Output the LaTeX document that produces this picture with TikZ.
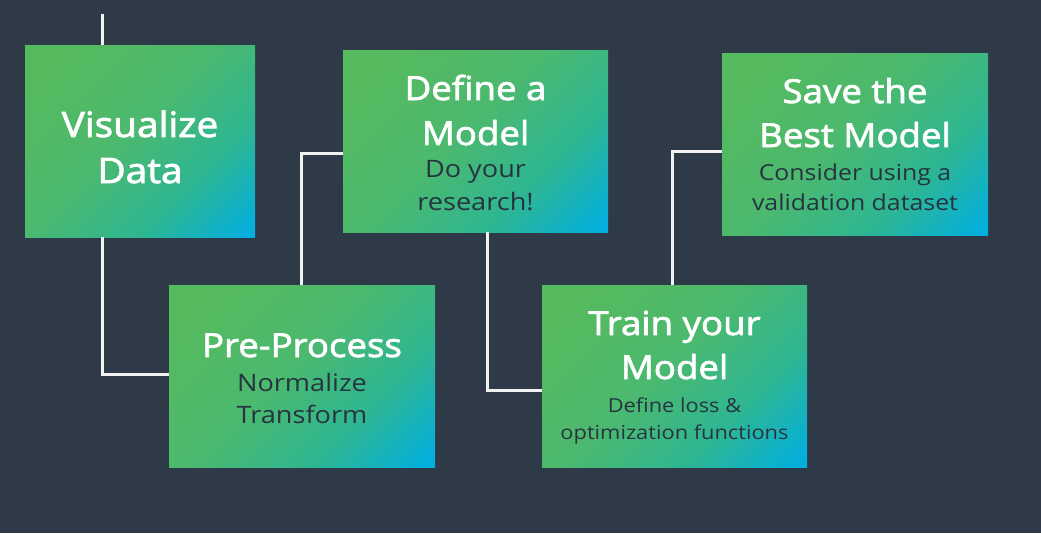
\documentclass[tikz,border=0pt]{standalone}
\usepackage{fontspec}
\setmainfont[FakeStretch=1.13]{Open Sans}
\newfontfamily\titlefont[FakeBold=2.2, FakeStretch=1.11]{Open Sans}
\definecolor{bg}{HTML}{2E3A47}
\definecolor{gA}{HTML}{56BA5E}
\definecolor{gB}{HTML}{4CB96E}
\definecolor{gC}{HTML}{2EB692}
\definecolor{gD}{HTML}{02AFDF}
\definecolor{subtxt}{HTML}{263440}
\definecolor{wire}{HTML}{F2F2F2}
\pgfdeclarehorizontalshading{boxgrad}{100bp}{color(0bp)=(gA); color(22bp)=(gA); color(46bp)=(gB); color(66bp)=(gC); color(84bp)=(gD); color(100bp)=(gD)}
\begin{document}
\begin{tikzpicture}[x=1pt,y=-1pt,
  box/.style={rectangle, inner sep=0pt, outer sep=0pt, anchor=north west, shade, shading=boxgrad, shading angle=-45},
  ttl/.style={anchor=base, inner sep=0pt, text=white, font=\titlefont\fontsize{#1}{#1}\selectfont},
  sub/.style={anchor=base, inner sep=0pt, text=subtxt, font=\fontsize{#1}{#1}\selectfont},
  wire/.style={draw=wire, line width=3pt}]
\fill[bg] (0,0) rectangle (1041,533);
\useasboundingbox (0,0) rectangle (1041,533);
% boxes
\node[box, minimum width=230pt, minimum height=192pt] (vis) at (25,45) {};
\node[box, minimum width=266pt, minimum height=182pt] (pre) at (169,285) {};
\node[box, minimum width=265pt, minimum height=182pt] (def) at (343,50) {};
\node[box, minimum width=265pt, minimum height=182pt] (trn) at (542,285) {};
\node[box, minimum width=266pt, minimum height=182pt] (sav) at (722,53) {};
% texts
\node[ttl=35] (vis1) at (140,137) {Visualize};
\node[ttl=35] (vis2) at (140,183) {Data};
\node[ttl=33] (pre1) at (302,357) {Pre-Process};
\node[sub=24] (pre2) at (302,391) {Normalize};
\node[sub=24] (pre3) at (302,423) {Transform};
\node[ttl=33] (def1) at (475.5,100) {Define a};
\node[ttl=33] (def2) at (475.5,145) {Model};
\node[sub=24] (def3) at (475.5,177) {Do your};
\node[sub=24] (def4) at (475.5,210) {research!};
\node[ttl=33] (sav1) at (855,103) {Save the};
\node[ttl=33] (sav2) at (855,147) {Best Model};
\node[sub=22] (sav3) at (855,180) {Consider using a};
\node[sub=22] (sav4) at (855,210) {validation dataset};
\node[ttl=33] (trn1) at (674.5,335) {Train your};
\node[ttl=33] (trn2) at (674.5,379) {Model};
\node[sub=19.3] (trn3) at (674.5,412) {Define loss \&};
\node[sub=19.3] (trn4) at (674.5,439) {optimization functions};
% connectors
\coordinate (start) at (102,14);
\draw[wire] (start) -- (start |- vis.north);
\draw[wire] (start |- vis.south) |- ([yshift=2pt]pre.west);
\draw[wire] ([xshift=-1pt]pre.north) |- ([yshift=-12pt]def.west);
\draw[wire] ([xshift=11.5pt]def.south) |- ([yshift=-14pt]trn.west);
\draw[wire] ([xshift=-2.5pt]trn.north) |- ([yshift=-7pt]sav.west);
\end{tikzpicture}
\end{document}
